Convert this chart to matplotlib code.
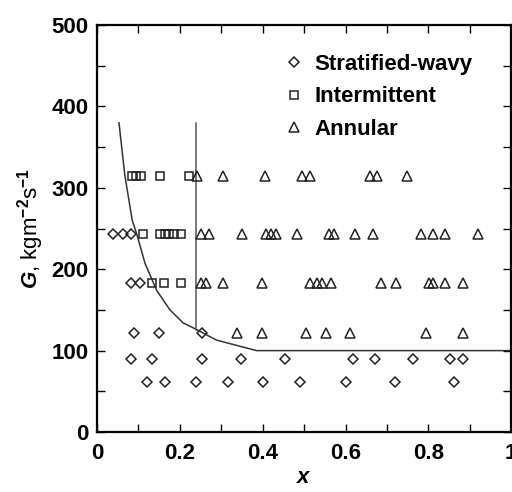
import matplotlib
matplotlib.use("Agg")
import matplotlib.pyplot as plt
from matplotlib.ticker import MultipleLocator, FuncFormatter

plt.rcParams['font.family'] = ['Liberation Sans', 'DejaVu Sans']
plt.rcParams['font.weight'] = 'bold'
plt.rcParams['mathtext.fontset'] = 'custom'
plt.rcParams['mathtext.rm'] = 'Liberation Sans:bold'
plt.rcParams['mathtext.it'] = 'Liberation Sans:italic:bold'
plt.rcParams['mathtext.bf'] = 'Liberation Sans:bold'

# flow-pattern data: quality x vs mass flux G
sw_x = [0.039, 0.062, 0.082,
        0.081, 0.104,
        0.090, 0.150, 0.253,
        0.082, 0.133, 0.253, 0.347, 0.453, 0.619, 0.670, 0.762, 0.852, 0.883,
        0.121, 0.164, 0.240, 0.316, 0.401, 0.491, 0.602, 0.720, 0.863]
sw_g = [243]*3 + [183]*2 + [122]*3 + [90]*10 + [61]*9

im_x = [0.084, 0.094, 0.106, 0.152, 0.222,
        0.112, 0.151, 0.163, 0.174, 0.186, 0.203,
        0.132, 0.161, 0.202]
im_g = [315]*5 + [243]*6 + [183]*3

an_x = [0.241, 0.304, 0.405, 0.494, 0.513, 0.658, 0.677, 0.749,
        0.250, 0.270, 0.351, 0.409, 0.421, 0.431, 0.483, 0.561, 0.571,
        0.622, 0.667, 0.782, 0.810, 0.839, 0.919,
        0.252, 0.263, 0.304, 0.399, 0.513, 0.531, 0.544, 0.564, 0.686,
        0.722, 0.802, 0.812, 0.839, 0.883,
        0.337, 0.399, 0.505, 0.552, 0.611, 0.794, 0.883]
an_g = [315]*8 + [243]*15 + [183]*14 + [122]*7

# transition boundaries
curve_x = [0.053, 0.067, 0.085, 0.096, 0.116, 0.144, 0.176, 0.208, 0.240,
           0.288, 0.340, 0.385, 1.0]
curve_g = [380, 316, 260, 243, 207, 174, 150, 134, 126, 113, 106, 100, 100]
vline_x = [0.24, 0.24]
vline_g = [125, 380]

fig = plt.figure(figsize=(5.12, 4.92), dpi=100)
ax = fig.add_axes([0.1895, 0.122, 0.809, 0.827])

ax.plot(curve_x, curve_g, color='#333333', lw=1.1)
ax.plot(vline_x, vline_g, color='#555555', lw=1.1)

mk = dict(linestyle='none', markerfacecolor='none', markeredgecolor='#222222',
          markeredgewidth=1.1)
ax.plot(sw_x, sw_g, marker='D', markersize=5.2, label='Stratified-wavy', **mk)
ax.plot(im_x, im_g, marker='s', markersize=6.2, label='Intermittent', **mk)
ax.plot(an_x, an_g, marker='^', markersize=7.5, label='Annular', **mk)

ax.set_xlim(0, 1)
ax.set_ylim(0, 500)
ax.xaxis.set_major_locator(MultipleLocator(0.2))
ax.xaxis.set_minor_locator(MultipleLocator(0.1))
ax.yaxis.set_major_locator(MultipleLocator(100))
ax.yaxis.set_minor_locator(MultipleLocator(50))
ax.xaxis.set_major_formatter(FuncFormatter(lambda v, p: '%g' % round(v, 2)))
ax.tick_params(which='both', direction='in', top=True, right=True,
               length=6, width=1.0, labelsize=16)
ax.tick_params(axis='x', pad=8)
ax.tick_params(axis='y', pad=6)
for s in ax.spines.values():
    s.set_linewidth(1.6)

ax.set_xlabel(r'$\mathit{x}$', fontsize=16, labelpad=2)
ax.set_ylabel(r'$\mathit{G}$, kgm$^{-2}$s$^{-1}$', fontsize=16, labelpad=4)

leg = ax.legend(loc='upper left', bbox_to_anchor=(0.406, 0.978), frameon=False,
                fontsize=16, handlelength=0.8, handletextpad=0.5,
                labelspacing=0.51, markerscale=1.0)

fig.savefig('out.png', dpi=100)
